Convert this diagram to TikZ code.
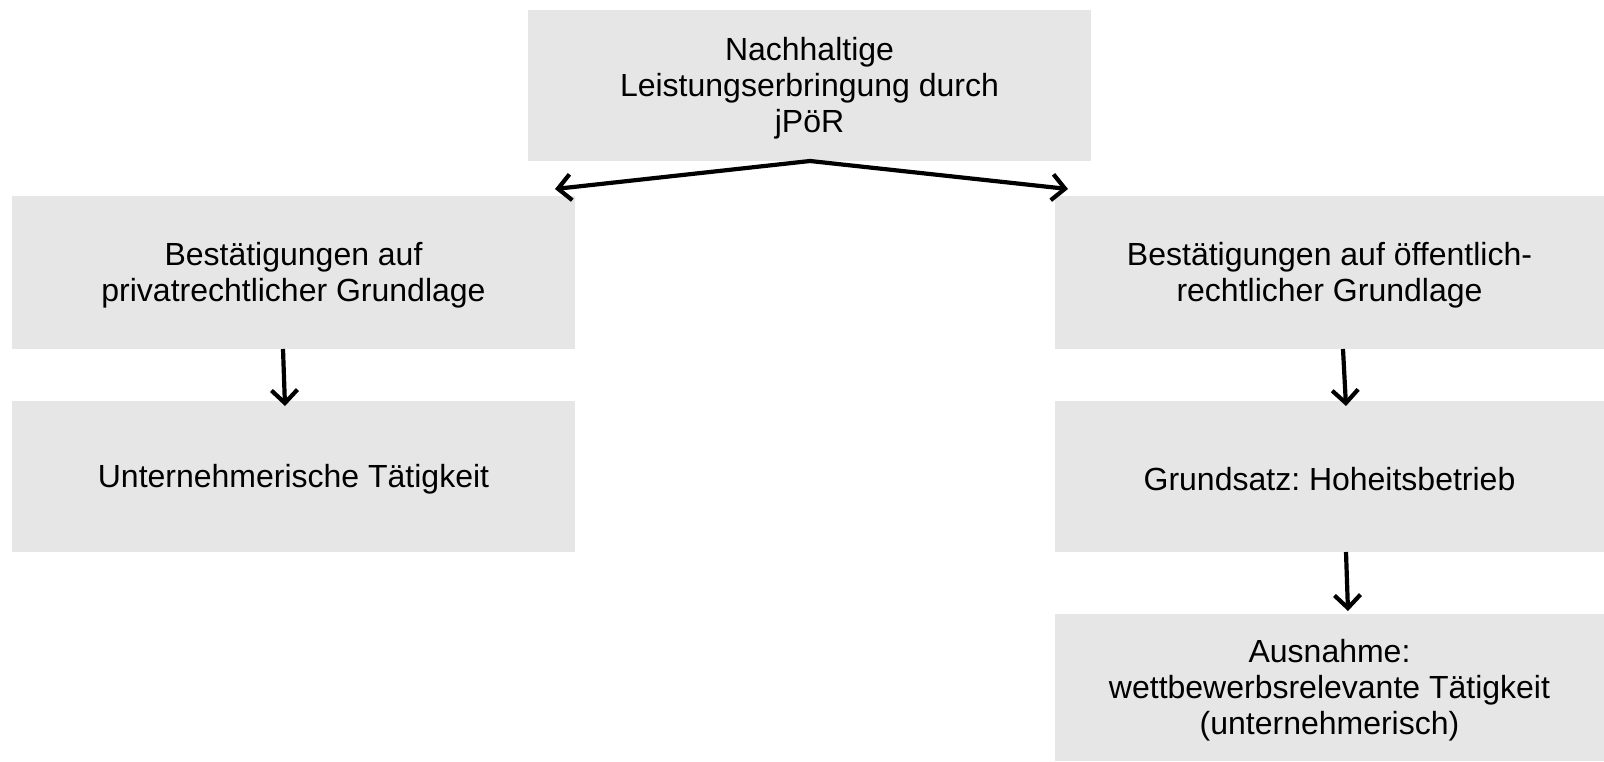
\documentclass[tikz,border=0pt]{standalone}
\usepackage{fontspec}
\setmainfont{Liberation Sans}
\usetikzlibrary{arrows.meta}
\definecolor{boxgray}{HTML}{E6E6E6}
\tikzset{
  box/.style={fill=boxgray, inner sep=0pt, anchor=center},
  lbl/.style={inner sep=0pt, align=center, font=\fontsize{32}{36}\selectfont\frenchspacing, anchor=center},
  conn/.style={line width=4.2pt, -{Straight Barb[length=13pt,width=26pt,line width=4.2pt]}}
}
\begin{document}
\begin{tikzpicture}[x=1pt,y=-1pt]
\useasboundingbox (0,0) rectangle (1604,761);
\node[box, minimum width=563pt, minimum height=151pt] (top) at (809.5,85.5) {};
\node[box, minimum width=563pt, minimum height=153pt] (l1) at (293.5,272.5) {};
\node[box, minimum width=563pt, minimum height=151pt] (l2) at (293.5,476.5) {};
\node[box, minimum width=549pt, minimum height=153pt] (r1) at (1329.5,272.5) {};
\node[box, minimum width=549pt, minimum height=151pt] (r2) at (1329.5,476.5) {};
\node[box, minimum width=549pt, minimum height=147pt] (r3) at (1329.5,687.5) {};
\node[lbl] (topt) at ([yshift=-3pt]top.center) {Nachhaltige\\Leistungserbringung durch\\jPöR};
\node[lbl] (l1t) at ([yshift=-2.5pt]l1.center) {Bestätigungen auf\\privatrechtlicher Grundlage};
\node[lbl] (l2t) at ([yshift=-3pt]l2.center) {Unternehmerische Tätigkeit};
\node[lbl] (r1t) at ([yshift=-2.5pt]r1.center) {Bestätigungen auf öffentlich-\\rechtlicher Grundlage};
\node[lbl] (r2t) at ([yshift=-3pt]r2.center) {Grundsatz: Hoheitsbetrieb};
\node[lbl] (r3t) at ([yshift=-2.5pt]r3.center) {Ausnahme:\\wettbewerbsrelevante Tätigkeit\\(unternehmerisch)};
\coordinate (apex) at (810,161);
\coordinate (la) at (555,189);
\coordinate (ra) at (1068,189);
\draw[conn] (apex) -- (la);
\draw[conn] (apex) -- (ra);
\coordinate (l1b) at (283,349);
\coordinate (l2top) at (285,406);
\draw[conn] (l1b) -- (l2top);
\coordinate (r1b) at (1343,349);
\coordinate (r2top) at (1346,406);
\draw[conn] (r1b) -- (r2top);
\coordinate (r2b) at (1346,552);
\coordinate (r3top) at (1348,611);
\draw[conn] (r2b) -- (r3top);
\end{tikzpicture}
\end{document}
